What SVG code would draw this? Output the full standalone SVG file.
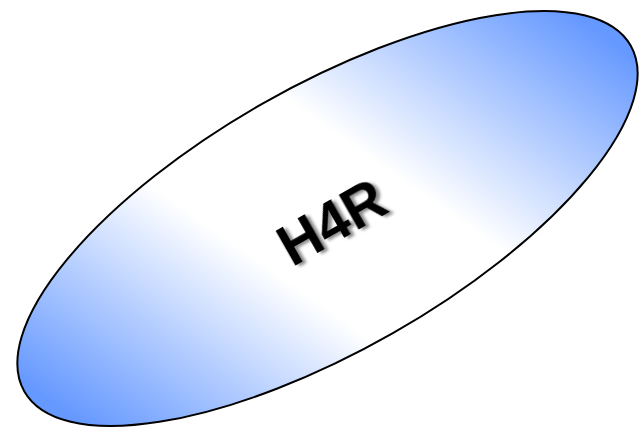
<svg xmlns="http://www.w3.org/2000/svg" width="639" height="428" viewBox="0 0 639 428">
<defs>
<linearGradient id="g" gradientUnits="userSpaceOnUse" x1="-278.5" y1="131.6" x2="278.5" y2="-131.6">
<stop offset="0" stop-color="#6699ff"/>
<stop offset="0.38" stop-color="#ffffff"/>
<stop offset="0.62" stop-color="#ffffff"/>
<stop offset="1" stop-color="#6699ff"/>
</linearGradient>
<filter id="sh" x="-20%" y="-20%" width="140%" height="140%">
<feGaussianBlur in="SourceAlpha" stdDeviation="1.5"/>
<feOffset dx="3" dy="3" result="b"/>
<feComponentTransfer><feFuncA type="linear" slope="0.45"/></feComponentTransfer>
<feMerge><feMergeNode/><feMergeNode in="SourceGraphic"/></feMerge>
</filter>
<style>
.lbl{font-family:"Liberation Sans",Arial,sans-serif;font-weight:bold;font-size:57px;fill:#000}
</style>
</defs>
<g id="h4r" transform="translate(327.5,218.5) rotate(-29.7)">
<ellipse cx="0" cy="0" rx="349" ry="132" fill="url(#g)" stroke="#000" stroke-width="2"/>
<text class="lbl" x="2" y="25" text-anchor="middle" filter="url(#sh)">H4R</text>
</g>
<g id="connectors"/>
</svg>
